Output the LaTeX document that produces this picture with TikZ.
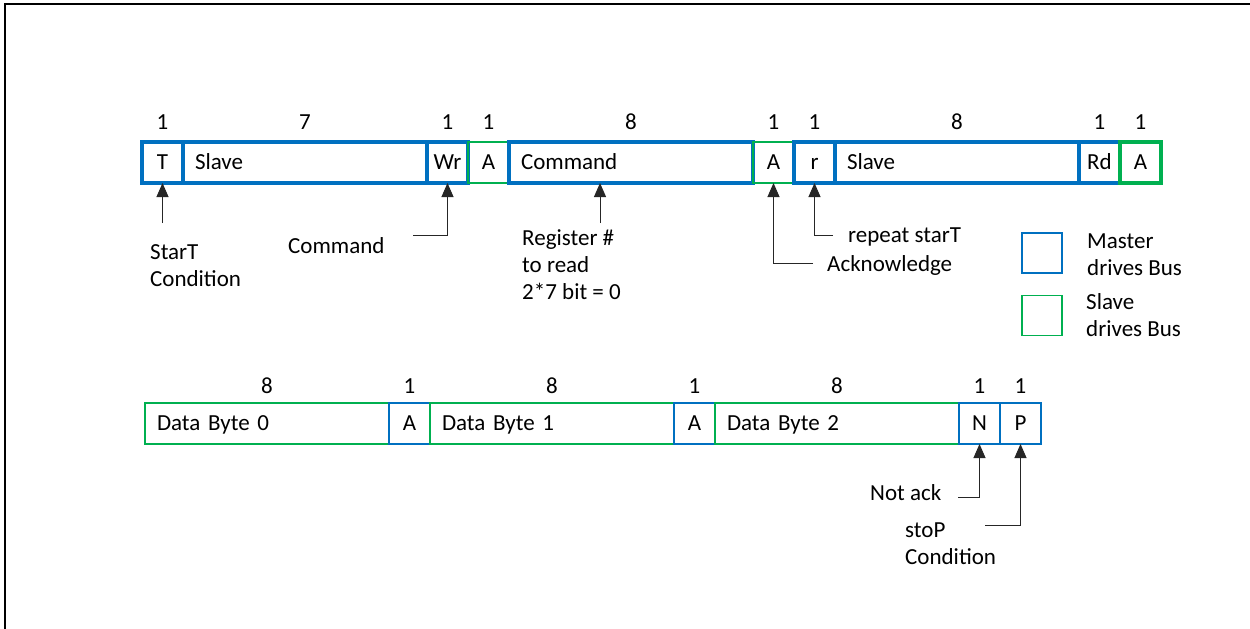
\documentclass[tikz,border=0pt]{standalone}
\usepackage{fontspec}
\setmainfont{Carlito}
\usetikzlibrary{positioning}
\usetikzlibrary{arrows.meta}
\definecolor{mblue}{RGB}{0,112,192}
\definecolor{sgreen}{RGB}{0,176,80}
\newcommand{\Fbig}{\fontsize{23}{27}\selectfont}
\tikzstyle{fld} = [rectangle, outer sep=0pt, inner sep=0pt, minimum height=41pt, text height=14.5pt, text depth=0pt, font=\Fbig]
\tikzstyle{one} = [fld, minimum width=41pt]
\tikzstyle{byte} = [fld, minimum width=244pt, text width=220pt, align=left]
\tikzstyle{txt} = [inner sep=0pt, align=left, font=\Fbig]
\tikzstyle{ptr} = [-{Triangle[length=14pt,width=12pt]}, line width=1pt, draw=black!85]

\begin{document}
\begin{tikzpicture}[x=1pt, y=-1pt,
  mst/.style={draw=mblue, line width=4pt},
  slv/.style={draw=sgreen, line width=1.8pt},
  mstlo/.style={draw=mblue, line width=1.8pt},
  bit/.style={label={[inner sep=0pt, label distance=12.5pt, font=\Fbig]above:#1}},
  bitlo/.style={label={[inner sep=0pt, label distance=9.5pt, font=\Fbig]above:#1}}]
\useasboundingbox (0,0) rectangle (1250,629);
%\draw [help lines] (0,0) grid[step=50] (1250,629);

% Frame
\draw[line width=2pt] (5,629) -- (5,4.3) -- (1250,4.3);

% Define nodes
\node[one, mst, bit=1]                          (t)    at (162.5,162.5) {T};
\node[byte, mst, bit=7, right = 0pt of t]       (slv1) {Slave};
\node[one, mst, bit=1, right = 0pt of slv1]     (wr)   {Wr};
\node[one, slv, bit=1, right = 0pt of wr]       (ack1) {A};
\node[byte, mst, bit=8, right = 0pt of ack1]    (cmd)  {Command};
\node[one, slv, bit=1, right = 0pt of cmd]      (ack2) {A};
\node[one, mst, bit=1, right = 0pt of ack2]     (rs)   {r};
\node[byte, mst, bit=8, right = 0pt of rs]      (slv2) {Slave};
\node[one, mst, bit=1, right = 0pt of slv2]     (rd)   {Rd};
\node[one, slv, line width=4pt, bit=1, right = 0pt of rd] (ack3) {A};

\node[byte, slv, bitlo=8]                       (d0)   at (267,423.5) {Data Byte 0};
\node[one, mstlo, bitlo=1, right = 0pt of d0]   (ma0)  {A};
\node[byte, slv, bitlo=8, right = 0pt of ma0]   (d1)   {Data Byte 1};
\node[one, mstlo, bitlo=1, right = 0pt of d1]   (ma1)  {A};
\node[byte, slv, bitlo=8, right = 0pt of ma1]   (d2)   {Data Byte 2};
\node[one, mstlo, bitlo=1, right = 0pt of d2]   (na)   {N};
\node[one, mstlo, bitlo=1, right = 0pt of na]   (sp)   {P};

% Labels
\node[txt, anchor=west] (stlbl)  at (150,265.5)  {StarT\\Condition};
\node[txt, anchor=west] (wrlbl)  at (288,246)    {Command};
\node[txt, anchor=west] (reglbl) at (522,264.5)  {Register \#\\to read\\2*7 bit = 0};
\node[txt, anchor=west] (acklbl) at (827,265)    {Acknowledge};
\node[txt, anchor=west] (rslbl)  at (848,237)    {repeat starT};
\node[txt, anchor=west] (nalbl)  at (870,493)    {Not ack};
\node[txt, anchor=west] (splbl)  at (905,543.5)  {stoP\\Condition};

% Legend
\node[draw=mblue, line width=1.5pt, minimum size=40pt, inner sep=0pt]  (mkey) at (1042,253) {};
\node[draw=sgreen, line width=1.5pt, minimum size=40pt, inner sep=0pt] (skey) at (1042,315.5) {};
\node[txt, anchor=west] (mtxt) at (1087,254.5) {Master\\drives Bus};
\node[txt, anchor=west] (stxt) at (1086,315.5) {Slave\\drives Bus};

% Edges
\coordinate[below = 40pt of t.south] (sttail);
\coordinate (wrtail)  at (413,235);
\coordinate (regtail) at (600,223);
\coordinate (acktail) at (813,263);
\coordinate (rstail)  at (833,235);
\coordinate (natail)  at (958,497);
\coordinate (sptail)  at (985,525);

\draw[ptr] (sttail)  -- (t.south);
\draw[ptr] (wrtail)  -| (wr.south);
\draw[ptr] (regtail) -- (regtail |- cmd.south);
\draw[ptr] (acktail) -| (ack2.south);
\draw[ptr] (rstail)  -| (rs.south);
\draw[ptr] (natail)  -| (na.south);
\draw[ptr] (sptail)  -| (sp.south);
\end{tikzpicture}
\end{document}
